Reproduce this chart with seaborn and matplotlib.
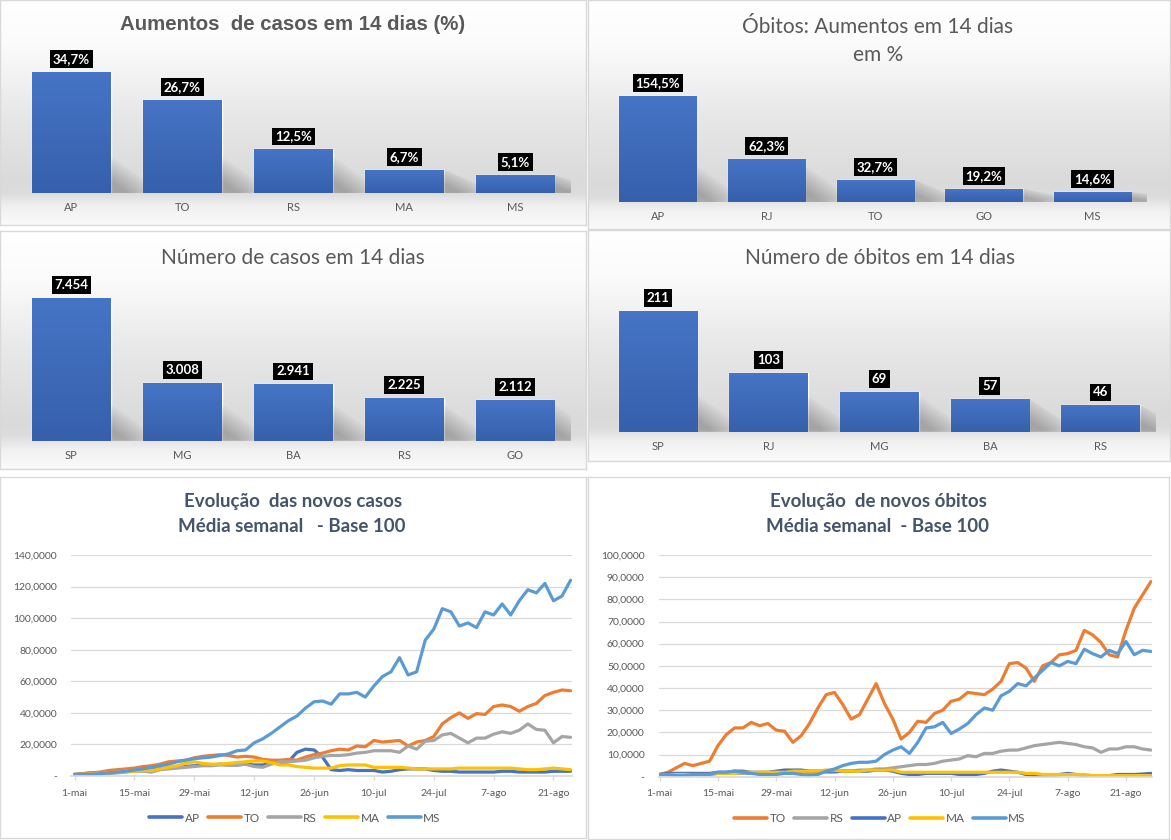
import numpy as np
import pandas as pd
import seaborn as sns
import matplotlib.pyplot as plt
from matplotlib.colors import LinearSegmentedColormap
from matplotlib.lines import Line2D

W, H = 1171, 840

# barras
uf_aum_casos = ['AP', 'TO', 'RS', 'MA', 'MS']
aum_casos = [34.7, 26.7, 12.5, 6.7, 5.1]
uf_aum_obitos = ['AP', 'RJ', 'TO', 'GO', 'MS']
aum_obitos = [154.5, 62.3, 32.7, 19.2, 14.6]
uf_num_casos = ['SP', 'MG', 'BA', 'RS', 'GO']
num_casos = [7454, 3008, 2941, 2225, 2112]
uf_num_obitos = ['SP', 'RJ', 'MG', 'BA', 'RS']
num_obitos = [211, 103, 69, 57, 46]

# linhas, um ponto a cada 2 dias desde 1-mai
datas_casos = pd.date_range('2020-05-01', '2020-08-25', freq='2D')
datas_obitos = pd.date_range('2020-05-01', '2020-08-27', freq='2D')

casos_AP = [1, 1.5, 2, 2, 2.5, 3, 3, 3.5, 3.5, 4,
            4.5, 5, 5.5, 6, 6.5, 7, 7, 7.5, 7, 7,
            7.5, 7, 7, 8, 8, 9, 15, 17, 16.5, 12,
            4, 3.5, 4, 3.5, 3.5, 3.5, 2.5, 3, 4, 4.5,
            4.5, 4.5, 3.5, 3, 3, 2.5, 2.5, 2.5, 2.5, 2.5,
            3, 3, 2.5, 2.5, 2.5, 2.5, 3, 3, 3]
casos_TO = [1, 1.5, 2, 2.5, 3.5, 4, 4.5, 5, 6, 6.5,
            7.5, 9, 9.5, 10, 11.5, 12.5, 13, 13.5, 13, 12,
            12.5, 12, 10.5, 10, 10, 10.5, 10, 12, 13.5, 14.5,
            16, 17, 16.5, 19, 18.5, 22.5, 21.5, 22, 22.5, 19,
            21.5, 22.5, 25, 33, 37, 40, 36.5, 39.5, 39, 44,
            45, 44, 41, 44, 46, 51, 53, 54.5, 54]
casos_RS = [1, 1, 1, 1.2, 1.5, 2, 2.5, 3, 3, 2.5,
            4, 4.5, 5, 5.5, 6, 6.5, 6.5, 7, 7, 7,
            7.5, 6, 5.5, 7.5, 9, 9, 9.5, 10, 11.5, 12.5,
            13, 13, 13.5, 14.5, 15, 16, 16, 16, 15, 19,
            17, 22, 22.5, 26, 27, 24, 21, 24, 24, 26.5,
            28, 27, 29, 33, 29.5, 29, 21, 25, 24.5]
casos_MA = [1, 1, 1.2, 1.5, 2, 2.5, 3, 3, 3.5, 3.5,
            4.5, 5.5, 6.5, 8, 9, 8, 7.5, 7.5, 8, 8.5,
            9, 9.5, 9.5, 8.5, 7, 7, 6, 5.5, 5, 5,
            5, 6.5, 7, 7, 7, 5.5, 5.5, 5.5, 5.5, 5,
            4.5, 4.5, 4.5, 4.5, 4.5, 5, 5, 5, 5, 5,
            5, 5, 4.5, 4, 4, 4.5, 5, 4.5, 4]
casos_MS = [1, 1, 1, 1.5, 2, 2.5, 3, 3.8, 4.5, 5.5,
            6.5, 7.5, 9, 10, 11, 11.5, 12, 13, 14, 16,
            16.5, 21, 23.5, 27, 31, 35, 38, 43, 47, 47.5,
            45.5, 52, 52, 53, 50, 57, 63, 66, 75, 64,
            66, 86, 93, 106, 104, 95, 97, 94, 104, 102,
            109, 102, 111, 118, 116, 122, 111, 114, 124]

obitos_TO = [1, 2, 4, 6, 5, 6, 7, 14, 19, 22,
             22, 24.5, 23, 24, 21, 20.5, 15.5, 18.5, 24, 31,
             37, 38, 32.5, 26, 28, 35, 42, 33, 26, 17,
             20, 25, 24.5, 28.5, 30, 34, 35, 38, 37.5, 37,
             39.5, 43, 51, 51.5, 49, 43, 50, 51.5, 55, 55.5,
             57, 66, 64, 60.5, 55, 54, 66, 76, 82, 88]
obitos_RS = [1, 1, 1, 1, 1, 1, 1, 1.5, 1.5, 1.5,
             1.5, 1.5, 1.5, 1.5, 1.5, 1.5, 1.5, 1.5, 1.5, 2,
             2, 2, 2.5, 2.5, 3, 3, 3.5, 3.5, 4, 4.5,
             5, 5.5, 5.5, 6, 7, 7.5, 8, 9.5, 9, 10.5,
             10.5, 11.5, 12, 12, 13, 14, 14.5, 15, 15.5, 15,
             14.5, 13.5, 13, 11, 12.5, 12.5, 13.5, 13.5, 12.5, 12]
obitos_AP = [1, 1.5, 1.5, 1.5, 1.5, 1.5, 1.5, 2, 2, 2.5,
             2.5, 2, 2, 2, 2.5, 3, 3, 3, 2.5, 2.5,
             2.5, 2.5, 2.5, 2.5, 2.5, 2.5, 3, 3, 2.5, 1.5,
             1, 1, 1.5, 1.5, 1.5, 1.5, 1, 1, 1, 1.5,
             2.5, 3, 2.5, 2, 1, 0.5, 0.3, 0.3, 1, 1.5,
             1, 0.5, 0.5, 0.3, 0.5, 1, 1, 1, 1.2, 1.5]
obitos_MA = [1, 1, 1, 1, 1, 1, 1, 1.5, 1.5, 1.5,
             2, 2, 2, 2, 2, 2, 2.5, 2.5, 2.5, 2.5,
             3, 3, 2.5, 2.5, 2.5, 3, 3, 3, 3, 2,
             2, 2, 2, 2, 2, 2, 2, 2, 2, 2,
             2, 2, 2, 2, 1.5, 1.5, 1, 1, 1, 1,
             1, 1, 0.5, 0.5, 0.5, 0.5, 0.5, 0.5, 0.5, 0.5]
obitos_MS = [1, 1, 0.5, 0.5, 1, 1, 1, 2, 2, 2.5,
             2, 1.5, 1, 1, 1, 1.5, 1.5, 1, 0.5, 1,
             2.5, 3.5, 5, 6, 6.5, 6.5, 7, 10, 12, 13.5,
             10.5, 15.5, 22, 22.5, 24.5, 19.5, 21.5, 24, 28, 31,
             30, 36.5, 38.5, 42, 41, 44.5, 48, 51.5, 50, 52,
             51, 57.5, 55.5, 54, 57, 55.5, 61, 55, 57, 56.5]

tick_datas = pd.date_range('2020-05-01', periods=9, freq='14D')
tick_rotulos = ['1-mai', '15-mai', '29-mai', '12-jun', '26-jun',
                '10-jul', '24-jul', '7-ago', '21-ago']

cores = {'AP': '#4472C4', 'TO': '#ED7D31', 'RS': '#A5A5A5',
         'MA': '#FFC000', 'MS': '#5B9BD5'}

sns.set_theme(style='white')
plt.rcParams['font.family'] = ['Lato', 'DejaVu Sans']

cinza_txt = '#595959'
cmap_fundo = LinearSegmentedColormap.from_list(
    'fundo', [(0.0, '#ffffff'), (0.2, '#fbfbfb'), (0.5, '#e8e8e8'),
              (0.8, '#dadada'), (0.86, '#dcdcdc'), (0.92, '#f1f1f1'),
              (1.0, '#fafafa')])
cmap_barra = LinearSegmentedColormap.from_list('barra', ['#4674C6', '#3660AC'])


def px_rect(x0, y0, x1, y1):
    return [x0 / W, 1 - y1 / H, (x1 - x0) / W, (y1 - y0) / H]


def painel(x0, y0, x1, y1, gradiente):
    bg = fig.add_axes(px_rect(x0, y0, x1, y1), zorder=0)
    if gradiente:
        bg.imshow(np.linspace(0, 1, 256).reshape(-1, 1), aspect='auto',
                  cmap=cmap_fundo, extent=[0, 1, 0, 1], vmin=0, vmax=1)
    bg.set_xlim(0, 1)
    bg.set_ylim(0, 1)
    bg.set_xticks([])
    bg.set_yticks([])
    for s in bg.spines.values():
        s.set_color('#D9D9D9')
        s.set_linewidth(1)


def barras(pos, cats, vals, ymax, rotulos, largura=0.71):
    ax = fig.add_axes(px_rect(*pos), zorder=1)
    ax.patch.set_alpha(0)
    sns.barplot(x=cats, y=vals, ax=ax, color='#4472C4', width=largura,
                saturation=1)
    alt_px = pos[3] - pos[1]
    cat_px = (pos[2] - pos[0]) / len(cats)
    for p, txt in zip(ax.patches, rotulos):
        x, w, h = p.get_x(), p.get_width(), p.get_height()
        # sombra em perspectiva, suave, a direita da barra
        hs = min(h, 32 / alt_px * ymax)
        dx = 40 / cat_px
        for k in range(18):
            f = 1.15 - k * 0.045
            ax.fill([x + w, x + w, x + w + dx * f, x + w + dx * f],
                    [0, min(h, hs * f), 4 / alt_px * ymax * f, 0],
                    color='#404040', alpha=0.018, lw=0, zorder=1)
        im = ax.imshow(np.linspace(0, 1, 100).reshape(-1, 1), cmap=cmap_barra,
                       aspect='auto', extent=[x, x + w, 0, h], zorder=2)
        im.set_clip_path(p)
        ax.annotate(txt, (x + w / 2, h), xytext=(0, 5), textcoords='offset points',
                    ha='center', va='bottom', color='white', fontsize=9.5,
                    fontweight='bold', zorder=3,
                    bbox=dict(boxstyle='square,pad=0.22', fc='black', ec='none'))
    ax.set_xlim(-0.5, len(cats) - 0.5)
    ax.set_ylim(0, ymax)
    ax.set_yticks([])
    ax.set_xlabel('')
    ax.set_ylabel('')
    ax.tick_params(axis='x', length=0, pad=6.5, labelsize=8, labelcolor=cinza_txt)
    for s in ax.spines.values():
        s.set_visible(False)
    return ax


def linhas(pos, datas, series, ordem, ymax, passo, folga, centro_leg):
    ax = fig.add_axes(px_rect(*pos), zorder=1)
    ax.patch.set_alpha(0)
    df = pd.DataFrame({
        'data': np.tile(datas, len(ordem)),
        'UF': np.repeat(ordem, len(datas)),
        'valor': np.concatenate([series[u] for u in ordem]),
    })
    sns.lineplot(data=df, x='data', y='valor', hue='UF', hue_order=ordem,
                 palette=cores, linewidth=2.3, ax=ax, legend=False,
                 solid_joinstyle='round', solid_capstyle='round')
    ax.set_xlim(datas[0] - pd.Timedelta(hours=folga), datas[-1] + pd.Timedelta(hours=8))
    ax.set_ylim(0, ymax)
    yt = np.arange(0, ymax + 1, passo)
    ax.set_yticks(yt)
    ax.set_yticklabels(['-' if v == 0 else f'{v:,.4f}'.replace('.', ',') for v in yt])
    ax.set_xticks(tick_datas)
    ax.set_xticklabels(tick_rotulos)
    ax.yaxis.grid(True, color='#D9D9D9', lw=0.9)
    ax.xaxis.grid(False)
    ax.set_xlabel('')
    ax.set_ylabel('')
    ax.tick_params(axis='y', length=0, pad=10, labelsize=7.5, labelcolor=cinza_txt)
    ax.tick_params(axis='x', length=3, width=0.9, color='#D9D9D9', pad=6,
                   labelsize=7.5, labelcolor=cinza_txt, bottom=True)
    for nome, s in ax.spines.items():
        s.set_visible(nome == 'bottom')
    ax.spines['bottom'].set_color('#D9D9D9')
    handles = [Line2D([0], [0], color=cores[u], lw=2.6) for u in ordem]
    fig.legend(handles, ordem, loc='center',
               bbox_to_anchor=(centro_leg[0] / W, 1 - centro_leg[1] / H),
               ncol=5, frameon=False, fontsize=8.5, handlelength=2.8,
               handletextpad=0.2, columnspacing=0.7, labelcolor=cinza_txt)
    return ax


fig = plt.figure(figsize=(W / 100, H / 100), dpi=100)
fig.patch.set_facecolor('white')

painel(0, 0, 586, 225, True)
painel(588, 0, 1170, 229, True)
painel(0, 231, 586, 469, True)
painel(588, 230, 1170, 461, True)
painel(0, 477, 586, 838, False)
painel(588, 477, 1169, 839, False)

barras((16, 53.5, 570.5, 193), uf_aum_casos, aum_casos, 40,
       [f'{v:.1f}%'.replace('.', ',') for v in aum_casos])
barras((603.5, 65, 1147, 202), uf_aum_obitos, aum_obitos, 200,
       [f'{v:.1f}%'.replace('.', ',') for v in aum_obitos])
barras((16, 287.6, 570.5, 440.7), uf_num_casos, num_casos, 8000,
       [f'{v:,}'.replace(',', '.') for v in num_casos])
barras((602.7, 288.7, 1155.8, 431.7), uf_num_obitos, num_obitos, 250,
       [str(v) for v in num_obitos])

linhas((71, 555, 572, 776), datas_casos,
       {'AP': casos_AP, 'TO': casos_TO, 'RS': casos_RS, 'MA': casos_MA, 'MS': casos_MS},
       ['AP', 'TO', 'RS', 'MA', 'MS'], 140, 20, 20, (295, 818))
linhas((658.6, 555, 1152.3, 776.7), datas_obitos,
       {'TO': obitos_TO, 'RS': obitos_RS, 'AP': obitos_AP, 'MA': obitos_MA, 'MS': obitos_MS},
       ['TO', 'RS', 'AP', 'MA', 'MS'], 100, 10, 6, (880, 819))


def titulo(x, y, txt, **kw):
    fig.text(x / W, 1 - y / H, txt, ha='center', va='center', **kw)


titulo(293, 25, 'Aumentos  de casos em 14 dias (%)', fontsize=14.7, fontweight='bold',
       color=cinza_txt, family=['Liberation Sans', 'DejaVu Sans'])
titulo(878, 27, 'Óbitos: Aumentos em 14 dias', fontsize=15, color=cinza_txt)
titulo(878, 55, 'em %', fontsize=15, color=cinza_txt)
titulo(293, 258, 'Número de casos em 14 dias', fontsize=15, color=cinza_txt)
titulo(880, 258, 'Número de óbitos em 14 dias', fontsize=15, color=cinza_txt)
azul_tit = '#44546A'
titulo(293, 501, 'Evolução  das novos casos', fontsize=13.5, fontweight='bold', color=azul_tit)
titulo(292, 527, 'Média semanal   - Base 100', fontsize=13.5, fontweight='bold', color=azul_tit)
titulo(878, 501, 'Evolução  de novos óbitos', fontsize=13.5, fontweight='bold', color=azul_tit)
titulo(878, 527, 'Média semanal  - Base 100', fontsize=13.5, fontweight='bold', color=azul_tit)

fig.savefig('out.png', dpi=100)
